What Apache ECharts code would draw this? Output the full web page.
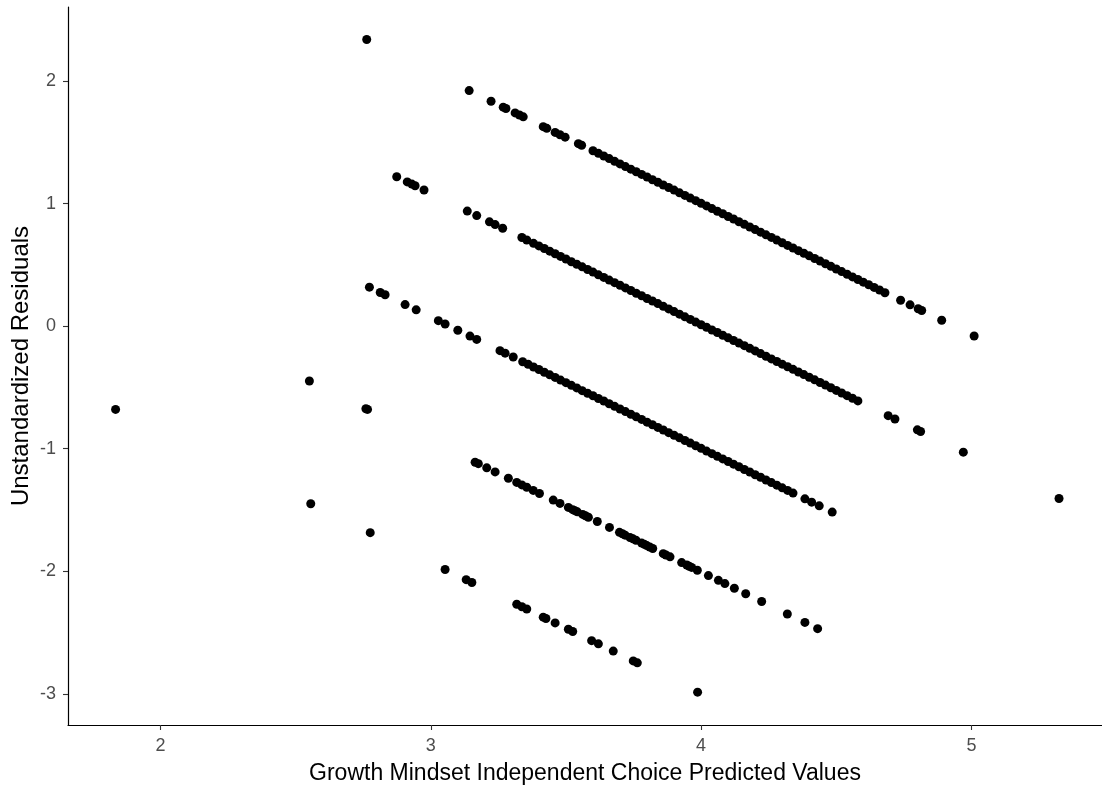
<!DOCTYPE html>
<html>
<head>
<meta charset="utf-8">
<script src="https://cdn.jsdelivr.net/npm/echarts@6/dist/echarts.min.js"></script>
<style>
html,body{margin:0;padding:0;background:#fff;}
#chart{width:1102px;height:793px;}
</style>
</head>
<body>
<div id="chart"></div>
<script>
// Residual bands
const bandA_x = [3.142,3.223,3.268,3.278,3.312,3.328,3.342,3.416,3.429,3.460,3.478,3.497,3.546,3.558,
  3.60,3.62,3.64,3.66,3.68,3.70,3.72,3.74,3.76,3.78,3.80,3.82,3.84,3.86,3.88,3.90,3.92,3.94,3.96,3.98,
  4.00,4.02,4.04,4.06,4.08,4.10,4.12,4.14,4.16,4.18,4.20,4.22,4.24,4.26,4.28,4.30,4.32,4.34,4.36,4.38,
  4.40,4.42,4.44,4.46,4.48,4.50,4.52,4.54,4.56,4.58,4.60,4.62,4.64,4.66,4.68,
  4.738,4.773,4.803,4.816,4.890,5.010];
const bandA_y = [1.922,1.835,1.787,1.776,1.740,1.723,1.708,1.628,1.614,1.581,1.562,1.542,1.489,1.476,
  1.431,1.410,1.388,1.367,1.345,1.324,1.302,1.281,1.260,1.238,1.217,1.195,1.174,1.152,1.131,1.110,1.088,1.067,1.045,1.024,
  1.002,0.981,0.959,0.938,0.917,0.895,0.874,0.852,0.831,0.809,0.788,0.767,0.745,0.724,0.702,0.681,0.659,0.638,0.616,0.595,
  0.574,0.552,0.531,0.509,0.488,0.466,0.445,0.424,0.402,0.381,0.359,0.338,0.316,0.295,0.273,
  0.211,0.174,0.142,0.128,0.048,-0.080];

const bandB_x = [2.874,2.913,2.930,2.942,2.975,3.135,3.170,3.217,3.238,3.266,3.337,3.355,
  3.38,3.40,3.42,3.44,3.46,3.48,3.50,3.52,3.54,3.56,3.58,3.60,3.62,3.64,3.66,3.68,3.70,3.72,3.74,3.76,3.78,
  3.80,3.82,3.84,3.86,3.88,3.90,3.92,3.94,3.96,3.98,4.00,4.02,4.04,4.06,4.08,4.10,4.12,4.14,4.16,4.18,
  4.20,4.22,4.24,4.26,4.28,4.30,4.32,4.34,4.36,4.38,4.40,4.42,4.44,4.46,4.48,4.50,4.52,4.54,4.56,4.58,
  4.692,4.717,4.800,4.812,4.970];
const bandB_y = [1.219,1.177,1.159,1.146,1.111,0.939,0.902,0.851,0.829,0.799,0.723,0.703,
  0.676,0.655,0.634,0.612,0.591,0.569,0.548,0.526,0.505,0.484,0.462,0.441,0.419,0.398,0.376,0.355,0.334,0.312,0.291,0.269,0.248,
  0.226,0.205,0.184,0.162,0.141,0.119,0.098,0.076,0.055,0.033,0.012,-0.009,-0.031,-0.052,-0.074,-0.095,-0.117,-0.138,-0.159,-0.181,
  -0.202,-0.224,-0.245,-0.267,-0.288,-0.310,-0.331,-0.352,-0.374,-0.395,-0.417,-0.438,-0.460,-0.481,-0.502,-0.524,-0.545,-0.567,-0.588,-0.610,
  -0.730,-0.757,-0.846,-0.859,-1.028];

const bandC_x = [2.773,2.813,2.831,2.905,2.946,3.028,3.053,3.100,3.145,3.170,3.256,3.275,3.305,
  3.34,3.36,3.38,3.40,3.42,3.44,3.46,3.48,3.50,3.52,3.54,3.56,3.58,3.60,3.62,3.64,3.66,3.68,3.70,3.72,3.74,
  3.76,3.78,3.80,3.82,3.84,3.86,3.88,3.90,3.92,3.94,3.96,3.98,4.00,4.02,4.04,4.06,4.08,4.10,4.12,4.14,
  4.16,4.18,4.20,4.22,4.24,4.26,4.28,4.30,4.32,4.34,
  4.384,4.409,4.437,4.485];
const bandC_y = [0.318,0.275,0.256,0.176,0.133,0.045,0.018,-0.033,-0.081,-0.108,-0.200,-0.220,-0.252,
  -0.290,-0.311,-0.333,-0.354,-0.376,-0.397,-0.418,-0.440,-0.461,-0.483,-0.504,-0.526,-0.547,-0.568,-0.590,-0.611,-0.633,-0.654,-0.676,-0.697,-0.719,
  -0.740,-0.761,-0.783,-0.804,-0.826,-0.847,-0.869,-0.890,-0.911,-0.933,-0.954,-0.976,-0.997,-1.019,-1.040,-1.062,-1.083,-1.104,-1.126,-1.147,
  -1.169,-1.190,-1.212,-1.233,-1.255,-1.276,-1.297,-1.319,-1.340,-1.362,
  -1.409,-1.436,-1.466,-1.517];

const bandD_x = [3.164,3.176,3.207,3.238,3.287,3.318,3.337,3.355,3.379,3.402,3.453,3.478,3.509,3.525,3.533,3.542,
  3.562,3.572,3.583,3.616,3.661,3.698,3.709,3.719,3.737,3.748,3.759,3.780,3.790,3.799,3.810,3.821,3.860,3.870,
  3.885,3.928,3.947,3.956,3.965,3.986,4.027,4.064,4.088,4.123,4.165,4.224,4.319,4.384,4.431];
const bandD_y = [-1.110,-1.122,-1.156,-1.189,-1.241,-1.275,-1.295,-1.314,-1.340,-1.365,-1.419,-1.446,-1.479,-1.497,-1.505,-1.515,
  -1.536,-1.547,-1.559,-1.594,-1.642,-1.682,-1.694,-1.705,-1.724,-1.735,-1.747,-1.770,-1.780,-1.790,-1.802,-1.814,-1.856,-1.867,
  -1.882,-1.929,-1.949,-1.959,-1.968,-1.991,-2.035,-2.074,-2.100,-2.138,-2.183,-2.246,-2.348,-2.417,-2.468];

const bandE_x = [3.053,3.131,3.152,3.318,3.337,3.355,3.416,3.426,3.460,3.509,3.525,3.595,3.620,3.675,3.749,3.764,3.987];
const bandE_y = [-1.985,-2.068,-2.091,-2.269,-2.289,-2.308,-2.374,-2.385,-2.421,-2.473,-2.491,-2.566,-2.592,-2.651,-2.731,-2.747,-2.986];

const outliers_x = [1.834,2.551,2.556,2.760,2.766,2.763,2.776,5.324];
const outliers_y = [-0.679,-0.447,-1.449,-0.674,-0.679,2.339,-1.685,-1.406];

// Axis ticks and titles
const xTicks = [2,3,4,5];
const yTicks = [-3,-2,-1,0,1,2];
const xTitle = 'Growth Mindset Independent Choice Predicted Values';
const yTitle = 'Unstandardized Residuals';

function zip(xs, ys){ const n = Math.min(xs.length, ys.length); const out=[]; for(let i=0;i<n;i++) out.push([xs[i], ys[i]]); return out; }

const groups = [[bandA_x,bandA_y],[bandB_x,bandB_y],[bandC_x,bandC_y],[bandD_x,bandD_y],[bandE_x,bandE_y],[outliers_x,outliers_y]];

const FONT = '"Liberation Sans", Arial, sans-serif';
const chart = echarts.init(document.getElementById('chart'), null, {renderer:'canvas'});
chart.setOption({
  animation:false,
  backgroundColor:'#ffffff',
  grid:{left:68, right:0, top:7, bottom:68, containLabel:false, outerBoundsMode:'none'},
  xAxis:{
    type:'value', min:1.658, max:5.483,
    name:xTitle, nameLocation:'middle', nameGap:37,
    nameTextStyle:{color:'#000', fontSize:23, fontFamily:FONT},
    axisLine:{show:true, onZero:false, lineStyle:{color:'#000', width:1.2}},
    axisTick:{show:true, length:5, lineStyle:{color:'#333', width:1.1}, customValues:xTicks},
    axisLabel:{color:'#4d4d4d', fontSize:18, fontFamily:FONT, margin:12, customValues:xTicks},
    splitLine:{show:false}
  },
  yAxis:{
    type:'value', min:-3.254, max:2.604,
    name:yTitle, nameLocation:'middle', nameGap:35, nameRotate:90, nameMoveOverlap:false,
    nameTextStyle:{color:'#000', fontSize:24, fontFamily:FONT},
    axisLine:{show:true, onZero:false, lineStyle:{color:'#000', width:1.2}},
    axisTick:{show:true, length:5, lineStyle:{color:'#333', width:1.1}, customValues:yTicks},
    axisLabel:{color:'#4d4d4d', fontSize:18, fontFamily:FONT, margin:12, customValues:yTicks},
    splitLine:{show:false}
  },
  series: groups.map(g => ({
    type:'scatter', symbol:'circle', symbolSize:9,
    itemStyle:{color:'#000', opacity:1},
    data: zip(g[0], g[1])
  }))
});
</script>
</body>
</html>
